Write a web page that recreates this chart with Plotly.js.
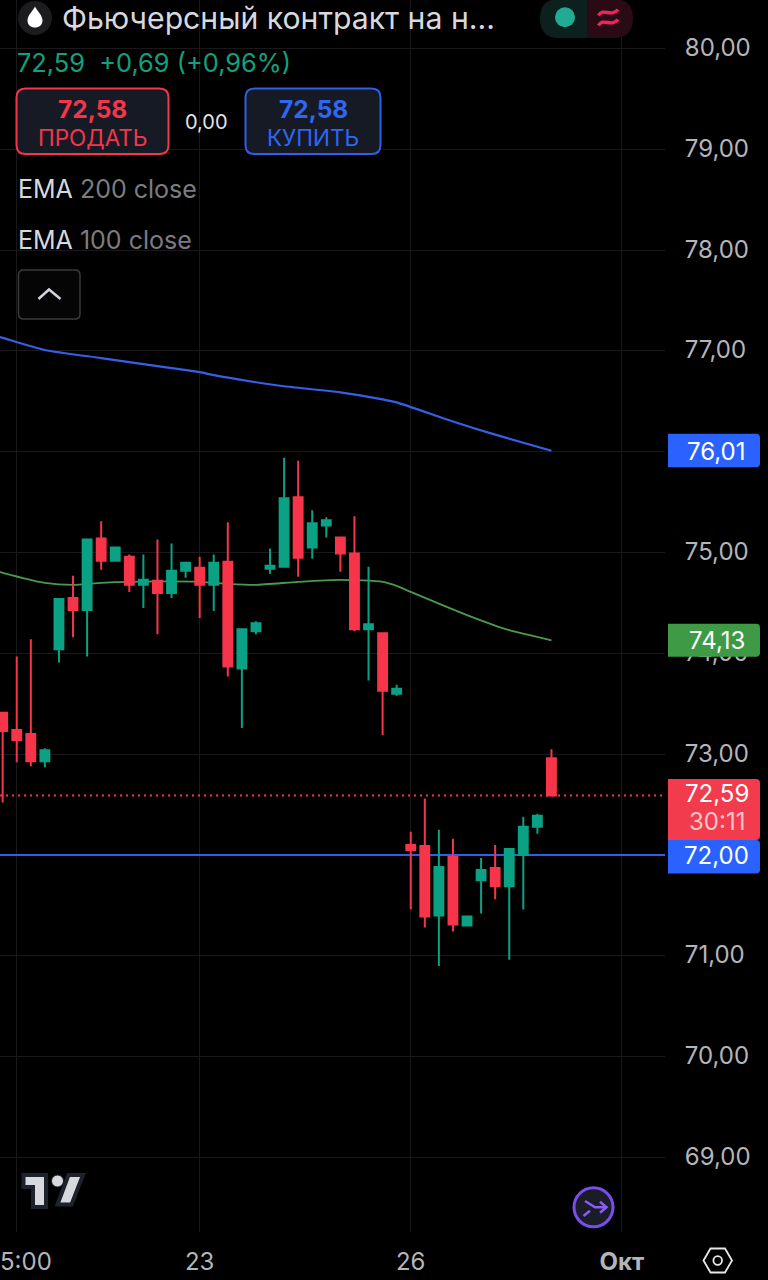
<!DOCTYPE html>
<html>
<head>
<meta charset="utf-8">
<script src="https://cdn.plot.ly/plotly-3.0.1.min.js"></script>
<style>html,body{margin:0;padding:0;background:#000;overflow:hidden}#chart{width:768px;height:1280px}</style>
</head>
<body>
<div id="chart"></div>
<script>
const barIndex = [0,1,2,3,4,5,6,7,8,9,10,11,12,13,14,15,16,17,18,19,20,21,22,23,24,25,26,27,28,29,30,31,32,33,34,35,36,37,38,39];
const opens  = [73.41,73.24,73.20,72.93,74.04,74.55,74.43,75.14,74.92,74.96,74.68,74.72,74.60,74.82,74.85,74.68,74.91,73.85,74.22,74.84,74.86,75.55,75.05,75.27,75.15,74.99,74.24,74.20,73.60,72.10,72.09,71.40,71.98,71.30,71.75,71.87,71.69,72.00,72.28,72.96];
const highs  = [73.42,73.97,74.14,73.06,74.55,74.77,75.14,75.31,75.05,74.98,74.98,75.13,75.09,74.90,74.96,74.98,75.30,74.24,74.32,75.04,75.94,75.91,75.42,75.35,75.16,75.36,74.86,74.20,73.69,72.23,72.56,72.25,72.16,71.40,71.97,72.10,72.06,72.38,72.41,73.05];
const lows   = [72.52,72.92,72.88,72.87,73.91,74.16,73.97,74.83,74.92,74.61,74.45,74.19,74.55,74.75,74.35,74.42,73.77,73.26,74.19,74.79,74.85,74.76,74.94,75.15,74.81,74.22,73.73,73.19,73.58,71.46,71.28,70.90,71.24,71.30,71.42,71.56,70.96,71.46,72.21,72.59];
const closes = [73.23,73.14,72.93,73.04,74.54,74.43,75.13,74.92,75.05,74.68,74.73,74.60,74.82,74.90,74.68,74.90,73.87,74.24,74.30,74.87,75.54,74.95,75.29,75.32,74.99,74.24,74.29,73.63,73.65,72.05,71.39,71.88,71.31,71.39,71.85,71.69,72.06,72.28,72.39,72.59];

const ema200Index = [-1,0,3,7,10,14,15,18,20,24,27,28,32,35,39];
const ema200Value = [77.17,77.13,77.01,76.93,76.87,76.79,76.76,76.69,76.65,76.59,76.52,76.49,76.30,76.17,76.01];
const ema100Index = [-1,0,3,5,7,9,14,16,18,21,24,27,28,29,33,36,39];
const ema100Value = [74.84,74.80,74.70,74.68,74.70,74.71,74.71,74.69,74.68,74.71,74.73,74.71,74.67,74.61,74.38,74.23,74.13];

const lastPrice = 72.59;
const levelPrice = 72.00;
const xTickVals = [1,14,29,44];
const xTickText = ['','23','26','<b>Окт</b>'];
const yTickVals = [69,70,71,72,73,74,75,76,77,78,79,80];
const yTickText = ['69,00','70,00','71,00','72,00','73,00','74,00','75,00','','77,00','78,00','79,00','80,00'];
const xRange = [-0.19,47.07];
const yRange = [68.26,80.482];

const W=768,H=1280,PW=665,PH=1232;
const RED='#f7354a',GREEN='#0ba184',BLUE='#2962ff',FONT='Inter, "Noto Sans", sans-serif';
const px=x=>x/PW, py=y=>1-y/PH;
const yOf=v=>PH*(yRange[1]-v)/(yRange[1]-yRange[0]);

function pathOf(cmds){
  return cmds.map(c=>{
    const o=[c[0]];
    for(let i=1;i<c.length;i+=2){o.push(px(c[i]),py(c[i+1]));}
    return o.join(' ');
  }).join(' ');
}
function rr(x0,y0,x1,y1,r){
  return pathOf([['M',x0+r,y0],['L',x1-r,y0],['Q',x1,y0,x1,y0+r],['L',x1,y1-r],['Q',x1,y1,x1-r,y1],['L',x0+r,y1],['Q',x0,y1,x0,y1-r],['L',x0,y0+r],['Q',x0,y0,x0+r,y0],['Z']]);
}
function shp(path,fill,stroke,w){
  return {type:'path',xref:'paper',yref:'paper',path:path,fillcolor:fill||'rgba(0,0,0,0)',
    line:{color:stroke||'rgba(0,0,0,0)',width:stroke?(w||1):0},layer:'above'};
}
function circ(cx,cy,r,fill,stroke,w){
  return {type:'circle',xref:'paper',yref:'paper',x0:px(cx-r),x1:px(cx+r),y0:py(cy+r),y1:py(cy-r),
    fillcolor:fill,line:{color:stroke||'rgba(0,0,0,0)',width:stroke?w:0},layer:'above'};
}
function tagPath(x0,y0,x1,y1){
  const r=4;
  return pathOf([['M',x0,y0],['L',x1-r,y0],['Q',x1,y0,x1,y0+r],['L',x1,y1-r],['Q',x1,y1,x1-r,y1],['L',x0,y1],['Z']]);
}
function txt(x,y,s,size,color,anchor,extra){
  return Object.assign({xref:'paper',yref:'paper',x:px(x),y:py(y),text:s,showarrow:false,
    xanchor:anchor||'left',yanchor:'middle',borderpad:0,borderwidth:0,
    font:{family:FONT,size:size,color:color}},extra||{});
}

const shapes=[
  // header
  circ(35,18,17,'#1c1c1e'),
  shp(pathOf([['M',35,6.5],['C',37,11,42.5,15,42.5,20.5],['C',42.5,25,39,27.5,35,27.5],['C',31,27.5,27.5,25,27.5,20.5],['C',27.5,15,33,11,35,6.5],['Z']]),'#ffffff'),
  // status pill
  shp(pathOf([['M',559,-1],['L',587,-1],['L',587,38],['L',559,38],['Q',540,38,540,18.5],['Q',540,-1,559,-1],['Z']]),'#0c211d'),
  shp(pathOf([['M',587,-1],['L',614,-1],['Q',633,-1,633,18.5],['Q',633,38,614,38],['L',587,38],['Z']]),'#2a0a15'),
  circ(565,17.3,10,'#22ab94'),
  shp(pathOf([['M',598.5,15.5],['C',603,7,611,18,618,9.5]]),null,'#f0245f',3.4),
  shp(pathOf([['M',598.5,25.5],['C',603,17,611,28,618,19.5]]),null,'#f0245f',3.4),
  // sell / buy buttons
  shp(rr(16.5,88.5,168.5,154,9),'#161a25',RED,2),
  shp(rr(245.5,88.5,380.5,154,9),'#161a25','#2f5fe8',2),
  // collapse button
  shp(rr(18.5,270,80,319,5),'#050505','#3a3a3c',1.5),
  shp(pathOf([['M',38.5,299],['L',49,289.5],['L',60.5,299]]),null,'#d1d4dc',2.5),
  // price tags
  shp(tagPath(668,yOf(76.01)-17,760,yOf(76.01)+16.5),BLUE),
  shp(tagPath(668,yOf(74.13)-16.5,760,yOf(74.13)+16.5),'#3f9a45'),
  shp(tagPath(668,779,760,840),'#f23b4c'),
  shp(tagPath(668,840,760,873.5),BLUE),
  // logo
  shp(pathOf([['M',23.5,1175],['L',46,1175],['L',46,1207],['L',33,1207],['L',33,1187],['L',23.5,1187],['Z']]),'#d8d9de','#1e222d',4),
  circ(57.5,1181,6,'#d8d9de','#1e222d',1),
  shp(pathOf([['M',68.5,1175],['L',83,1175],['L',71.5,1204.5],['L',57.5,1204.5],['Z']]),'#d8d9de','#1e222d',4),
  // purple button
  circ(593.5,1207.3,19.5,'#1a1c28','#7a4df0',3),
  shp(pathOf([['M',585,1201],['L',595,1207.3],['L',606.5,1207.3]]),null,'#8a5cf6',2.5),
  shp(pathOf([['M',600,1201.7],['L',606.5,1207.3],['L',600,1212.8]]),null,'#8a5cf6',2.5),
  shp(pathOf([['M',583.5,1216],['L',590,1210.8]]),null,'#8a5cf6',2.5),
  // settings hexagon
  shp(pathOf([['M',703.5,1260.5],['L',710.5,1248.5],['L',725,1248.5],['L',732,1260.5],['L',725,1272.5],['L',710.5,1272.5],['Z']]),null,'#e8e8ea',1.8),
  circ(717.7,1260.5,4.3,'rgba(0,0,0,0)','#e8e8ea',1.8)
];

const annotations=[
  txt(62,18,'Фьючерсный контракт на н...',30.2,'#d8d9de'),
  txt(17,62,'72,59&nbsp;&nbsp;+0,69 (+0,96%)',25.4,'#12a07f'),
  txt(92.5,109,'<b>72,58</b>',24.5,RED,'center'),
  txt(92.5,137,'ПРОДАТЬ',22.5,RED,'center'),
  txt(206.5,122,'0,00',20,'#e4e4e6','center'),
  txt(313,109,'<b>72,58</b>',24.5,'#2f66f5','center'),
  txt(313,137,'КУПИТЬ',22.5,'#2f66f5','center'),
  txt(18,189,'EMA <span style="color:#7b7c82">200 close</span>',25,'#d8d9de'),
  txt(18,240,'EMA <span style="color:#7b7c82">100 close</span>',25,'#d8d9de'),
  txt(716.5,451,'76,01',24,'#ffffff','center'),
  txt(716.5,640.5,'74,13',24,'#ffffff','center'),
  txt(716.5,794,'72,59',24,'#ffffff','center'),
  txt(716.5,821,'30:11',24,'#ffc4ca','center'),
  txt(716.5,855.5,'72,00',24,'#ffffff','center'),
  txt(0,1261,'5:00',24,'#b4b5ba','left')
];

const traces=[
  {type:'scatter',mode:'lines',x:ema200Index,y:ema200Value,line:{color:'#3560e6',width:2.2,shape:'spline',smoothing:0.6},hoverinfo:'skip',xaxis:'x',yaxis:'y'},
  {type:'scatter',mode:'lines',x:ema100Index,y:ema100Value,line:{color:'#4a9a4c',width:1.8,shape:'spline',smoothing:0.6},hoverinfo:'skip',xaxis:'x',yaxis:'y'},
  {type:'scatter',mode:'lines',x:xRange,y:[levelPrice,levelPrice],line:{color:'#2f5fe8',width:2},hoverinfo:'skip',xaxis:'x',yaxis:'y'},
  {type:'scatter',mode:'lines',x:xRange,y:[lastPrice,lastPrice],line:{color:RED,width:2,dash:'2px,4px'},hoverinfo:'skip',xaxis:'x',yaxis:'y'},
  {type:'candlestick',x:barIndex,open:opens,high:highs,low:lows,close:closes,xaxis:'x2',yaxis:'y2',whiskerwidth:0,
    increasing:{line:{color:GREEN,width:2},fillcolor:GREEN},
    decreasing:{line:{color:RED,width:2},fillcolor:RED},hoverinfo:'skip'}
];

const layout={
  width:W,height:H,autosize:false,showlegend:false,
  paper_bgcolor:'#000',plot_bgcolor:'#000',
  margin:{l:0,r:W-PW,t:0,b:H-PH,pad:0},
  separators:', ',boxgap:0.1,
  font:{family:FONT,color:'#b2b5be'},
  xaxis:{type:'linear',range:xRange,tickmode:'array',tickvals:xTickVals,ticktext:xTickText,
    showgrid:true,gridcolor:'#19191b',gridwidth:1,zeroline:false,showline:false,
    ticks:'outside',ticklen:8,tickcolor:'rgba(0,0,0,0)',
    tickfont:{family:FONT,size:24,color:'#b4b5ba'},rangeslider:{visible:false},fixedrange:true},
  yaxis:{type:'linear',side:'right',range:yRange,tickmode:'array',tickvals:yTickVals,ticktext:yTickText,
    showgrid:true,gridcolor:'#19191b',gridwidth:1,zeroline:false,showline:false,
    ticks:'outside',ticklen:14,tickcolor:'rgba(0,0,0,0)',ticklabelshift:-1,
    tickfont:{family:FONT,size:24,color:'#b4b5ba'},fixedrange:true},
  xaxis2:{type:'linear',overlaying:'x',range:xRange,visible:false,rangeslider:{visible:false},fixedrange:true,anchor:'y2'},
  yaxis2:{type:'linear',overlaying:'y',side:'right',range:yRange,visible:false,fixedrange:true,anchor:'x2'},
  shapes:shapes,annotations:annotations
};
Plotly.newPlot('chart',traces,layout,{displayModeBar:false,staticPlot:true});
</script>
</body>
</html>
